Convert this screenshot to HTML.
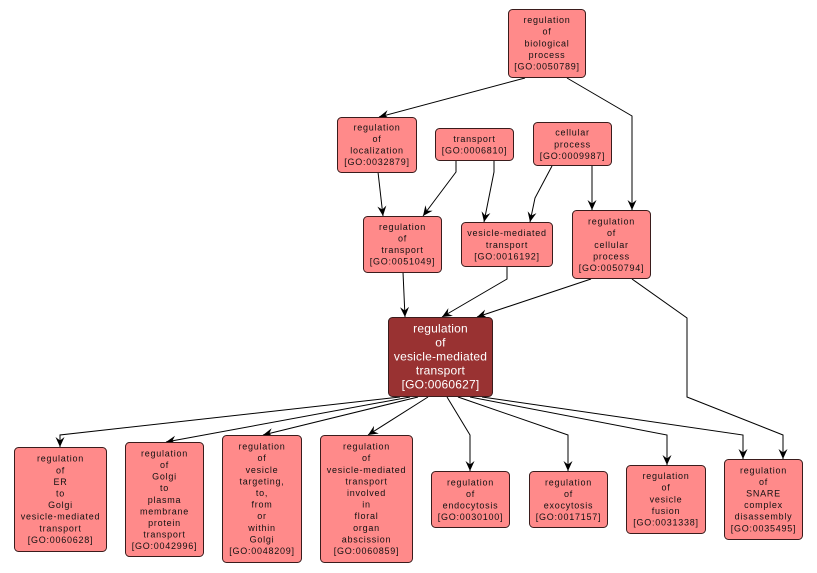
<!DOCTYPE html>
<html><head><meta charset="utf-8"><style>
html,body{margin:0;padding:0;background:#fff;}
svg{display:block;}
.n{fill:#ff8a8a;stroke:#3a1c1c;stroke-width:1;}
.m{fill:#993232;stroke:#3a1c1c;stroke-width:1;}
.t{font-family:"Liberation Sans",Arial,sans-serif;font-size:9px;letter-spacing:0.75px;fill:#111;text-anchor:middle;}
.tm{font-family:"Liberation Sans",Arial,sans-serif;font-size:12px;letter-spacing:0.2px;fill:#fff;text-anchor:middle;}
.e{fill:none;stroke:#000;stroke-width:1;marker-end:url(#a);}
</style></head><body>
<svg width="817" height="573" viewBox="0 0 817 573" xmlns="http://www.w3.org/2000/svg">
<defs>
<marker id="a" markerUnits="userSpaceOnUse" markerWidth="11" markerHeight="10" refX="10" refY="5" orient="auto" viewBox="0 0 11 10">
<path d="M0,0.5 L10,5 L0,9.5 L3.5,5 z" fill="#000"/>
</marker>
</defs>

<!-- edges -->
<polyline class="e" points="525,78 379,117"/>
<polyline class="e" points="567,78 632,116 632,210"/>
<polyline class="e" points="378,172 383,216"/>
<polyline class="e" points="456,161 456,172 423,216"/>
<polyline class="e" points="494,161 494,172 484,222"/>
<polyline class="e" points="552,166 535,198 530,222"/>
<polyline class="e" points="592,166 592,210"/>
<polyline class="e" points="403,272 405,317"/>
<polyline class="e" points="507,267 507,279 442,317"/>
<polyline class="e" points="591,279 477,317"/>
<polyline class="e" points="632,279 687,318 687,397 783,435 783,459"/>
<polyline class="e" points="400,397 60,435 60,447"/>
<polyline class="e" points="410,397 166,442"/>
<polyline class="e" points="418,397 263,435"/>
<polyline class="e" points="428,397 368,435"/>
<polyline class="e" points="447,397 470,435 470,471"/>
<polyline class="e" points="458,397 568,435 568,471"/>
<polyline class="e" points="470,397 667,435 667,465"/>
<polyline class="e" points="482,397 743,435 743,459"/>

<!-- nodes -->
<rect class="n" x="508.5" y="9.5" width="77" height="68" rx="4"/>
<text class="t"><tspan x="547" y="23.1">regulation</tspan><tspan x="547" y="34.7">of</tspan><tspan x="547" y="46.3">biological</tspan><tspan x="547" y="57.9">process</tspan><tspan x="547" y="69.5">[GO:0050789]</tspan></text>

<rect class="n" x="337.5" y="117.5" width="79" height="55" rx="4"/>
<text class="t"><tspan x="377" y="130.4">regulation</tspan><tspan x="377" y="142">of</tspan><tspan x="377" y="153.6">localization</tspan><tspan x="377" y="165.2">[GO:0032879]</tspan></text>

<rect class="n" x="435.5" y="128.5" width="78" height="32" rx="4"/>
<text class="t"><tspan x="474.5" y="142">transport</tspan><tspan x="474.5" y="153.6">[GO:0006810]</tspan></text>

<rect class="n" x="533.5" y="122.5" width="78" height="43" rx="4"/>
<text class="t"><tspan x="572.5" y="135.7">cellular</tspan><tspan x="572.5" y="147.3">process</tspan><tspan x="572.5" y="158.9">[GO:0009987]</tspan></text>

<rect class="n" x="363.5" y="216.5" width="78" height="56" rx="4"/>
<text class="t"><tspan x="402.5" y="229.9">regulation</tspan><tspan x="402.5" y="241.5">of</tspan><tspan x="402.5" y="253.1">transport</tspan><tspan x="402.5" y="264.7">[GO:0051049]</tspan></text>

<rect class="n" x="461.5" y="222.5" width="91" height="44" rx="4"/>
<text class="t"><tspan x="507" y="236.2">vesicle-mediated</tspan><tspan x="507" y="247.8">transport</tspan><tspan x="507" y="259.4">[GO:0016192]</tspan></text>

<rect class="n" x="572.5" y="210.5" width="78" height="68" rx="4"/>
<text class="t"><tspan x="611.5" y="224.6">regulation</tspan><tspan x="611.5" y="236.2">of</tspan><tspan x="611.5" y="247.8">cellular</tspan><tspan x="611.5" y="259.4">process</tspan><tspan x="611.5" y="271">[GO:0050794]</tspan></text>

<rect class="m" x="388.5" y="317.5" width="104" height="79" rx="4"/>
<text class="tm"><tspan x="440.5" y="332.5">regulation</tspan><tspan x="440.5" y="346.5">of</tspan><tspan x="440.5" y="360.5">vesicle-mediated</tspan><tspan x="440.5" y="374.5">transport</tspan><tspan x="440.5" y="388.5">[GO:0060627]</tspan></text>

<rect class="n" x="14.5" y="447.5" width="92" height="104" rx="4"/>
<text class="t"><tspan x="60.5" y="461.7">regulation</tspan><tspan x="60.5" y="473.3">of</tspan><tspan x="60.5" y="484.9">ER</tspan><tspan x="60.5" y="496.5">to</tspan><tspan x="60.5" y="508.1">Golgi</tspan><tspan x="60.5" y="519.7">vesicle-mediated</tspan><tspan x="60.5" y="531.3">transport</tspan><tspan x="60.5" y="542.9">[GO:0060628]</tspan></text>

<rect class="n" x="125.5" y="442.5" width="78" height="114" rx="4"/>
<text class="t"><tspan x="164.5" y="456.4">regulation</tspan><tspan x="164.5" y="468">of</tspan><tspan x="164.5" y="479.6">Golgi</tspan><tspan x="164.5" y="491.2">to</tspan><tspan x="164.5" y="502.8">plasma</tspan><tspan x="164.5" y="514.4">membrane</tspan><tspan x="164.5" y="526">protein</tspan><tspan x="164.5" y="537.6">transport</tspan><tspan x="164.5" y="549.2">[GO:0042996]</tspan></text>

<rect class="n" x="222.5" y="435.5" width="79" height="127" rx="4"/>
<text class="t"><tspan x="262" y="449.6">regulation</tspan><tspan x="262" y="461.2">of</tspan><tspan x="262" y="472.8">vesicle</tspan><tspan x="262" y="484.4">targeting,</tspan><tspan x="262" y="496">to,</tspan><tspan x="262" y="507.6">from</tspan><tspan x="262" y="519.2">or</tspan><tspan x="262" y="530.8">within</tspan><tspan x="262" y="542.4">Golgi</tspan><tspan x="262" y="554">[GO:0048209]</tspan></text>

<rect class="n" x="320.5" y="435.5" width="92" height="127" rx="4"/>
<text class="t"><tspan x="366.5" y="449.6">regulation</tspan><tspan x="366.5" y="461.2">of</tspan><tspan x="366.5" y="472.8">vesicle-mediated</tspan><tspan x="366.5" y="484.4">transport</tspan><tspan x="366.5" y="496">involved</tspan><tspan x="366.5" y="507.6">in</tspan><tspan x="366.5" y="519.2">floral</tspan><tspan x="366.5" y="530.8">organ</tspan><tspan x="366.5" y="542.4">abscission</tspan><tspan x="366.5" y="554">[GO:0060859]</tspan></text>

<rect class="n" x="431.5" y="471.5" width="78" height="56" rx="4"/>
<text class="t"><tspan x="470.5" y="485.4">regulation</tspan><tspan x="470.5" y="497">of</tspan><tspan x="470.5" y="508.6">endocytosis</tspan><tspan x="470.5" y="520.2">[GO:0030100]</tspan></text>

<rect class="n" x="529.5" y="471.5" width="78" height="56" rx="4"/>
<text class="t"><tspan x="568.5" y="485.4">regulation</tspan><tspan x="568.5" y="497">of</tspan><tspan x="568.5" y="508.6">exocytosis</tspan><tspan x="568.5" y="520.2">[GO:0017157]</tspan></text>

<rect class="n" x="626.5" y="465.5" width="79" height="68" rx="4"/>
<text class="t"><tspan x="666" y="479.1">regulation</tspan><tspan x="666" y="490.7">of</tspan><tspan x="666" y="502.3">vesicle</tspan><tspan x="666" y="513.9">fusion</tspan><tspan x="666" y="525.5">[GO:0031338]</tspan></text>

<rect class="n" x="724.5" y="459.5" width="78" height="80" rx="4"/>
<text class="t"><tspan x="763.5" y="473.3">regulation</tspan><tspan x="763.5" y="484.9">of</tspan><tspan x="763.5" y="496.5">SNARE</tspan><tspan x="763.5" y="508.1">complex</tspan><tspan x="763.5" y="519.7">disassembly</tspan><tspan x="763.5" y="531.3">[GO:0035495]</tspan></text>
</svg>
</body></html>
